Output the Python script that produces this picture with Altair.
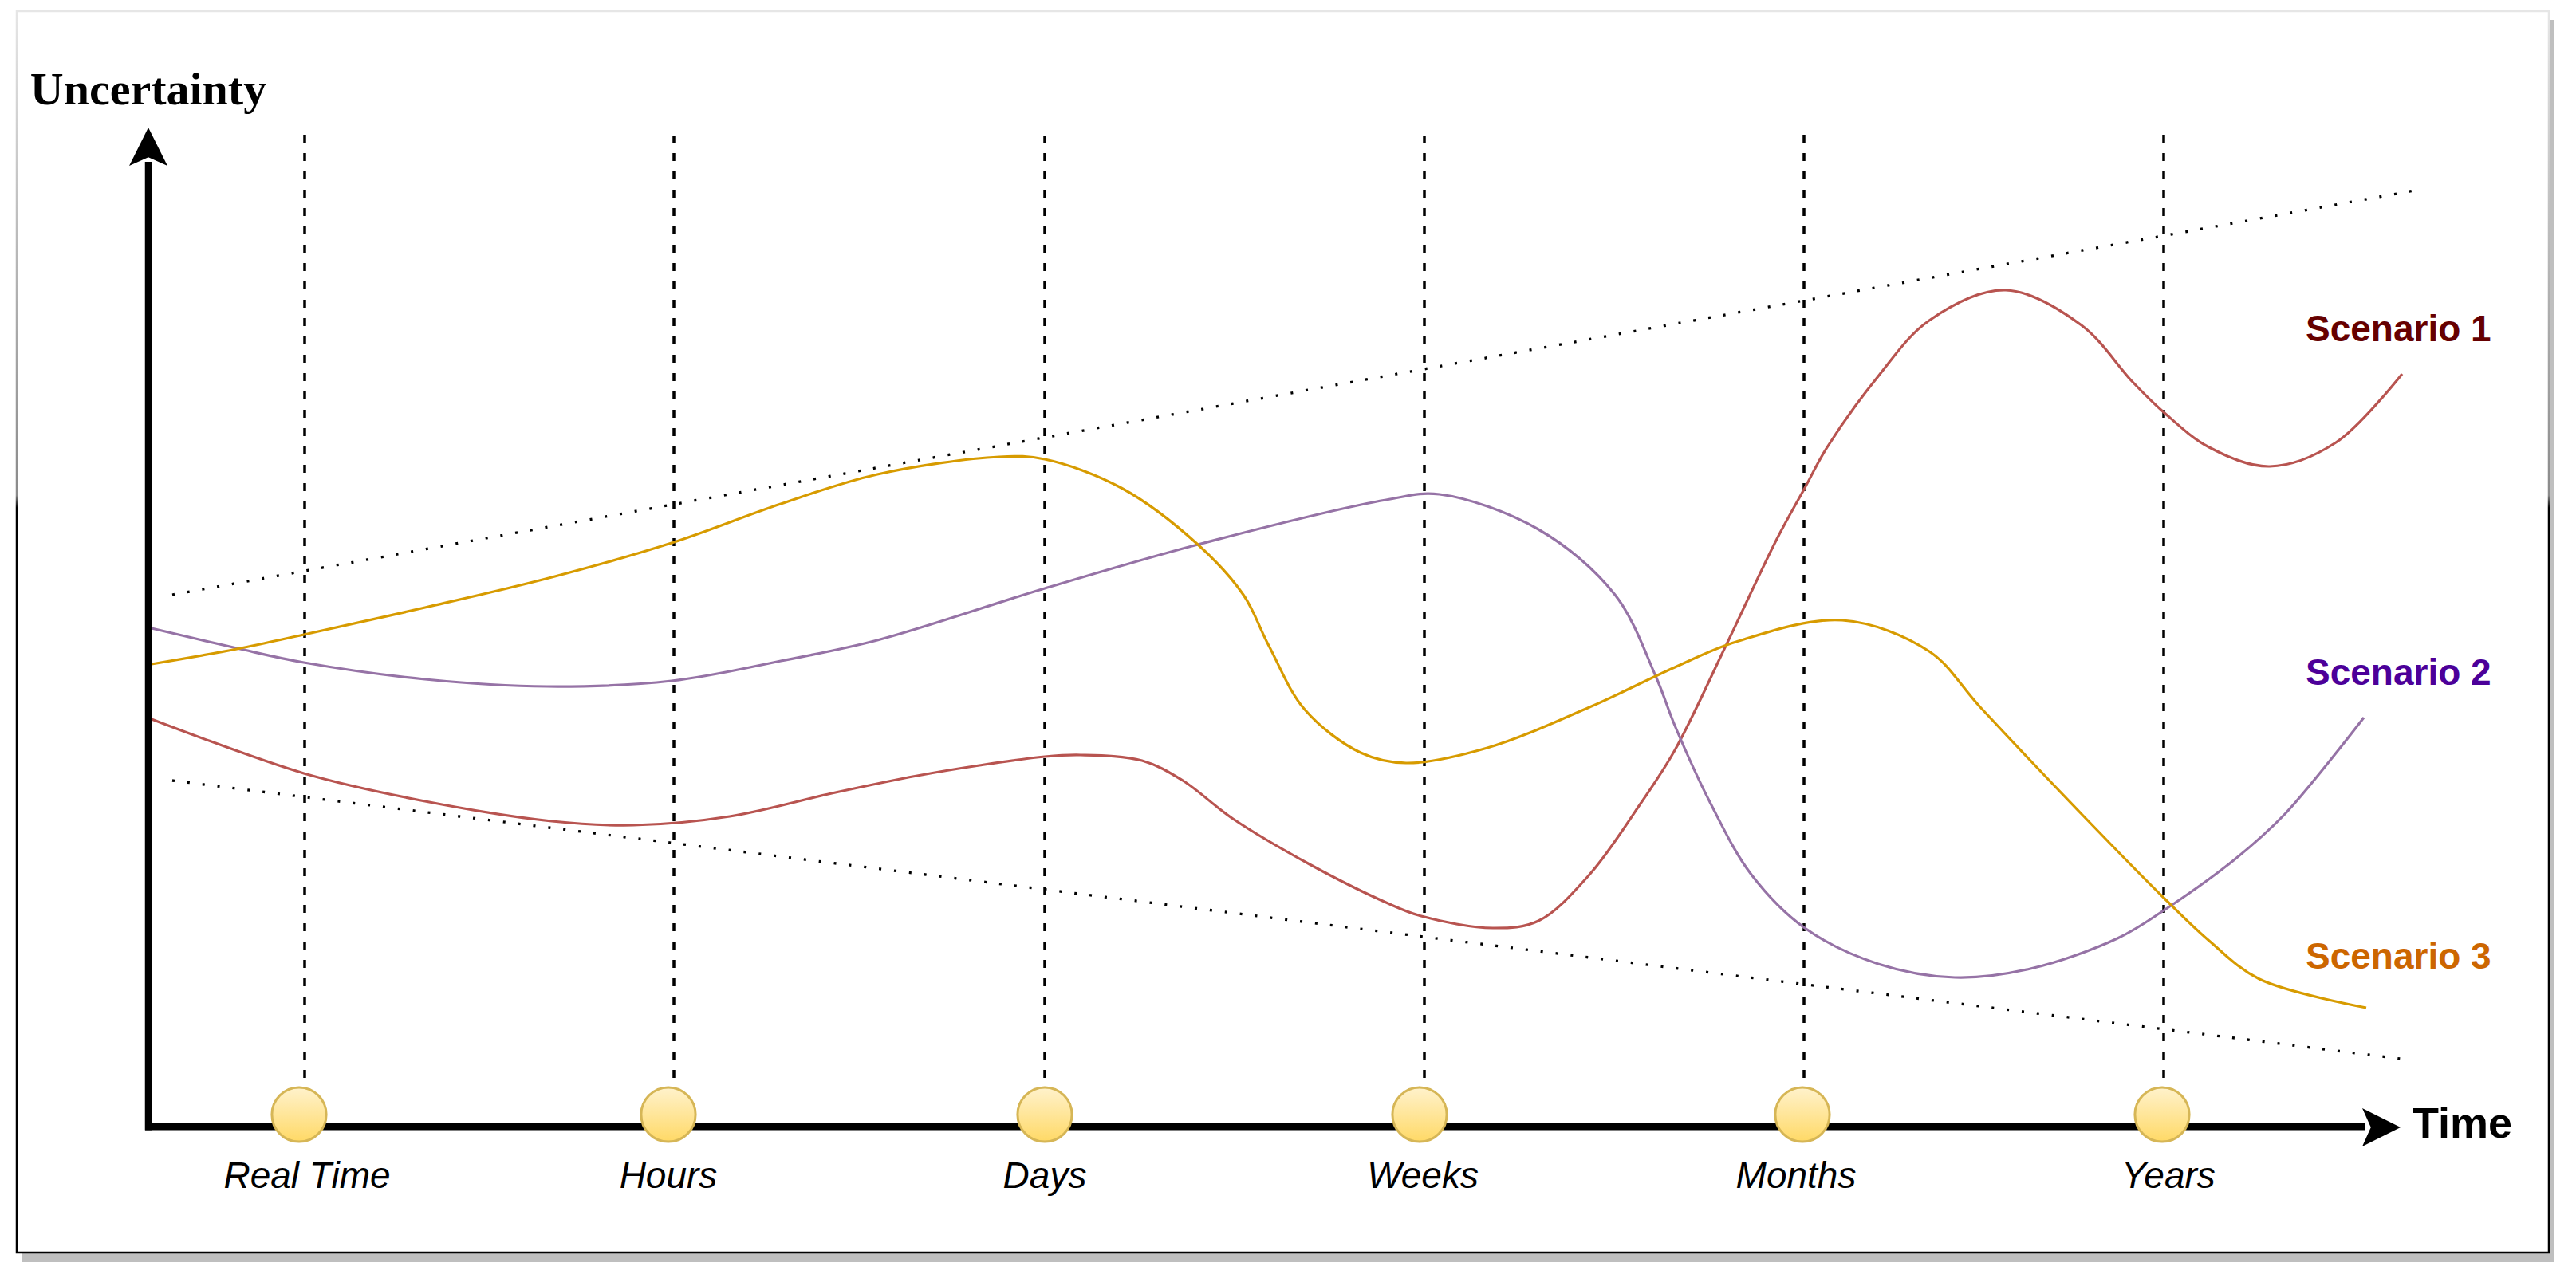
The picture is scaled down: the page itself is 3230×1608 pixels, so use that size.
import altair as alt
import pandas as pd

# Units: 1 unit = 10 px of the original drawing, origin at the axes' corner.
categories = ["Real Time", "Hours", "Days", "Weeks", "Months", "Years"]
marker_x = [18.9, 65.2, 112.4, 159.4, 207.4, 252.5]
guide_x = [19.6, 65.9, 112.4, 160.0, 207.6, 252.7]
guide_top = [125.3, 124.2, 124.2, 124.2, 125.4, 125.4]
label_x = [19.9, 65.2, 112.4, 159.8, 206.6, 253.3]

s1_x = [0.4, 19.5, 34.7, 50.6, 60.8, 72.9, 85.7, 96.4, 104.2, 112.4, 116.9, 124.6, 129.7,
        136.0, 145.6, 155.2, 159.6, 168.6, 174.3, 180.7, 187.1, 191.4, 197.8, 204.2, 207.7,
        210.5, 216.9, 223.3, 232.9, 242.4, 248.8, 252.7, 258.4, 266.0, 274.3, 282.6]
s1_y = [51.1, 44.3, 40.8, 38.3, 37.8, 38.9, 41.8, 44.0, 45.3, 46.4, 46.6, 45.9, 43.4,
        38.6, 32.9, 28.1, 26.4, 24.9, 25.8, 31.6, 40.5, 47.2, 60.3, 73.7, 80.1,
        85.2, 94.1, 101.1, 104.9, 100.5, 93.4, 89.6, 85.2, 82.8, 85.8, 94.4]

s2_x = [0.4, 11.1, 19.5, 34.7, 50.0, 65.6, 79.3, 91.4, 112.4, 131.6, 155.2, 161.9, 174.3,
        183.9, 189.0, 191.4, 195.9, 201.0, 207.7, 216.9, 226.5, 236.0, 246.9, 252.7, 261.6,
        267.9, 277.8]
s2_y = [62.5, 60.0, 58.2, 56.1, 55.2, 55.9, 58.4, 61.0, 67.5, 73.0, 78.6, 79.3, 74.9,
        66.7, 56.5, 50.3, 40.5, 31.6, 24.9, 20.4, 18.7, 19.8, 23.6, 27.1, 33.5,
        39.2, 51.3]

s3_x = [0.4, 11.1, 19.5, 34.7, 50.6, 65.6, 79.3, 91.4, 106.7, 112.4, 122.0, 131.6, 137.3,
        140.5, 145.0, 152.0, 157.7, 167.9, 180.7, 191.4, 199.1, 212.4, 223.3, 229.7, 242.4,
        252.7, 258.4, 264.7, 278.1]
s3_y = [58.0, 59.9, 61.7, 65.1, 68.9, 73.2, 78.1, 81.8, 84.0, 83.7, 80.1, 73.0, 66.7,
        60.3, 52.3, 46.9, 45.6, 47.5, 52.6, 57.6, 60.8, 63.5, 59.6, 52.6, 39.2,
        28.7, 23.3, 18.5, 14.9]

scenarios = ["Scenario 1", "Scenario 2", "Scenario 3"]
curve_colors = ["#b85450", "#9673a6", "#d79b00"]
label_colors = ["#660000", "#4c0099", "#cc6600"]
scenario_label_x = [270.5, 270.5, 270.5]
scenario_label_y = [98.5, 55.4, 19.8]

upper_x = [3.0, 284.7]
upper_y = [66.7, 117.5]
lower_x = [3.0, 283.2]
lower_y = [43.4, 8.4]

frame_x = [-16.5, 301.0]
frame_y = [-15.8, 139.9]
shadow_x = [-15.8, 301.7]
shadow_y = [-17.0, 138.8]

xs = alt.Scale(domain=[-17.8, 303.6], nice=False, zero=False)
ys = alt.Scale(domain=[-18.0, 140.5], nice=False, zero=False)


def X(f="x"):
    return alt.X(f"{f}:Q", scale=xs, axis=None)


def Y(f="y"):
    return alt.Y(f"{f}:Q", scale=ys, axis=None)


# frame + shadow
shadow = alt.Chart(pd.DataFrame({"x": [shadow_x[0]], "x2": [shadow_x[1]],
                                 "y": [shadow_y[0]], "y2": [shadow_y[1]]})).mark_rect(
    fill="#bfbfbf").encode(x=X(), x2="x2:Q", y=Y(), y2="y2:Q")
frame = alt.Chart(pd.DataFrame({"x": [frame_x[0]], "x2": [frame_x[1]],
                                "y": [frame_y[0]], "y2": [frame_y[1]]})).mark_rect(
    fill="white", strokeWidth=2.5,
    stroke={"gradient": "linear", "x1": 0, "y1": 0, "x2": 0, "y2": 1,
            "stops": [{"offset": 0, "color": "#e6e6e6"},
                      {"offset": 0.39, "color": "#8a8a8a"},
                      {"offset": 0.40, "color": "#000000"},
                      {"offset": 1, "color": "#000000"}]}
).encode(x=X(), x2="x2:Q", y=Y(), y2="y2:Q")

# dotted envelope
env_df = pd.DataFrame({"x": upper_x + lower_x, "y": upper_y + lower_y,
                       "g": ["upper"] * 2 + ["lower"] * 2})
envelope = alt.Chart(env_df).mark_line(color="black", strokeWidth=3.3,
                                       strokeDash=[3, 16], strokeCap="butt").encode(
    x=X(), y=Y(), detail="g:N")

# dashed guides
guide_df = pd.DataFrame({"x": guide_x, "y": [1.5] * 6, "y2": guide_top})
guides = alt.Chart(guide_df).mark_rule(color="black", strokeWidth=3.5,
                                       strokeDash=[10, 13]).encode(
    x=X(), y=Y(), y2="y2:Q")

# curves
rows = []
for name, xv, yv in zip(scenarios, [s1_x, s2_x, s3_x], [s1_y, s2_y, s3_y]):
    for a, b in zip(xv, yv):
        rows.append({"scenario": name, "x": a, "y": b})
curve_df = pd.DataFrame(rows)
curves = alt.Chart(curve_df).mark_line(strokeWidth=3.2, interpolate="catmull-rom").encode(
    x=X(), y=Y(),
    color=alt.Color("scenario:N", scale=alt.Scale(domain=scenarios, range=curve_colors),
                    legend=None),
    detail="scenario:N")

# axes lines
yaxis = alt.Chart(pd.DataFrame({"x": [0.0], "y": [-0.45], "y2": [121.0]})).mark_rule(
    color="black", strokeWidth=8.5).encode(x=X(), y=Y(), y2="y2:Q")
xaxis = alt.Chart(pd.DataFrame({"x": [-0.4], "x2": [278.0], "y": [0.0]})).mark_rule(
    color="black", strokeWidth=9).encode(x=X(), x2="x2:Q", y=Y())

up_head = alt.Chart(pd.DataFrame({"x": [0.0], "y": [122.9]})).mark_point(
    shape="M0,-1L1,1L0,0.55L-1,1Z", filled=True, color="black", opacity=1,
    size=2304, strokeWidth=0).encode(x=X(), y=Y())
right_head = alt.Chart(pd.DataFrame({"x": [280.0], "y": [-0.1]})).mark_point(
    shape="M1,0L-1,1L-0.55,0L-1,-1Z", filled=True, color="black", opacity=1,
    size=2304, strokeWidth=0).encode(x=X(), y=Y())

# markers
markers = alt.Chart(pd.DataFrame({"x": marker_x, "y": [1.5] * 6})).mark_circle(
    size=4650, opacity=1, stroke="#d6b656", strokeWidth=3,
    fill={"gradient": "linear", "x1": 0, "y1": 0, "x2": 0, "y2": 1,
          "stops": [{"offset": 0, "color": "#fff2cc"},
                    {"offset": 1, "color": "#ffd966"}]}
).encode(x=X(), y=Y())

# category labels
cat_labels = alt.Chart(pd.DataFrame({"x": label_x, "y": [-7.7] * 6, "t": categories})).mark_text(
    font="Liberation Sans", fontStyle="italic", fontSize=46, align="center",
    baseline="alphabetic", color="black").encode(x=X(), y=Y(), text="t:N")

scen_labels = alt.Chart(pd.DataFrame({"x": scenario_label_x, "y": scenario_label_y,
                                      "t": scenarios})).mark_text(
    font="Liberation Sans", fontWeight="bold", fontSize=46, align="left",
    baseline="alphabetic").encode(
    x=X(), y=Y(), text="t:N",
    color=alt.Color("t:N", scale=alt.Scale(domain=scenarios, range=label_colors), legend=None))

ytitle = alt.Chart(pd.DataFrame({"x": [0.0], "y": [128.2], "t": ["Uncertainty"]})).mark_text(
    font="Liberation Serif", fontWeight="bold", fontSize=58, align="center",
    baseline="alphabetic", color="black").encode(x=X(), y=Y(), text="t:N")

xtitle = alt.Chart(pd.DataFrame({"x": [283.9], "y": [-1.4], "t": ["Time"]})).mark_text(
    font="Liberation Sans", fontWeight="bold", fontSize=54, align="left",
    baseline="alphabetic", color="black").encode(x=X(), y=Y(), text="t:N")

chart = alt.layer(
    shadow, frame, envelope, guides, curves, yaxis, xaxis, up_head, right_head,
    markers, cat_labels, scen_labels, ytitle, xtitle
).resolve_scale(color="independent").properties(
    width=3214, height=1585, padding=0,
    autosize=alt.AutoSizeParams(type="none")
).configure_view(stroke=None)

chart.save("out.html", embed_options={"renderer": "svg", "actions": False})
